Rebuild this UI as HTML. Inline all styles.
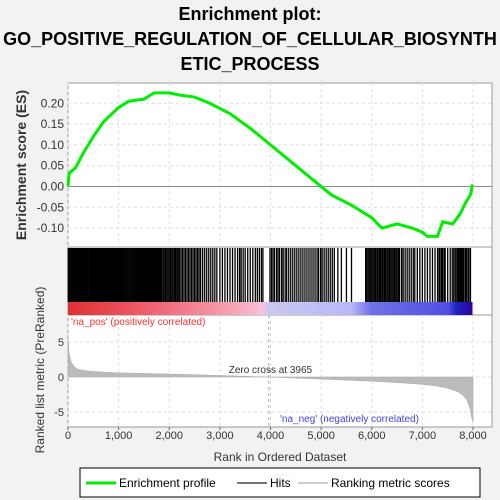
<!DOCTYPE html>
<html><head><meta charset="utf-8"><style>
body{margin:0;background:#f2f2f2;font-family:"Liberation Sans",sans-serif;}
svg{display:block}
</style></head><body>
<svg width="500" height="500" xmlns="http://www.w3.org/2000/svg">
<rect width="500" height="500" fill="#f2f2f2"/>
<text x="250" y="20" text-anchor="middle" font-size="18" font-weight="bold">Enrichment plot:</text>
<text x="250" y="45" text-anchor="middle" font-size="18" font-weight="bold">GO_POSITIVE_REGULATION_OF_CELLULAR_BIOSYNTH</text>
<text x="250" y="70" text-anchor="middle" font-size="18" font-weight="bold">ETIC_PROCESS</text>
<g id="chart"></g>
</svg>
<script>
const esRanks=[0,20,50,150,300,500,700,1000,1200,1500,1700,2000,2200,2500,2800,3200,3600,4000,4400,4800,5200,5600,6000,6200,6500,6800,7000,7100,7300,7400,7600,7750,7850,7950,7990];
const esValues=[0,0.03,0.035,0.045,0.08,0.12,0.155,0.19,0.205,0.21,0.225,0.225,0.22,0.215,0.2,0.175,0.14,0.1,0.06,0.02,-0.02,-0.045,-0.075,-0.1,-0.09,-0.1,-0.11,-0.12,-0.12,-0.085,-0.09,-0.065,-0.04,-0.02,0.005];
const hitRanks=[5,20,30,45,60,75,90,105,120,135,150,165,180,200,210,225,240,255,270,290,300,315,330,345,360,375,390,410,420,435,450,465,480,495,510,525,540,560,570,585,600,615,630,650,660,675,690,710,720,735,750,770,780,800,810,830,840,860,870,890,900,920,930,950,960,980,1000,1020,1040,1060,1080,1100,1120,1140,1160,1180,1200,1220,1240,1260,1280,1300,1320,1340,1360,1380,1400,1415,1430,1445,1460,1475,1490,1505,1520,1535,1550,1565,1580,1595,1610,1625,1640,1655,1670,1685,1700,1715,1730,1745,1760,1775,1790,1805,1820,1835,1850,1875,1900,1925,1950,1975,2000,2025,2050,2075,2100,2125,2150,2175,2200,2230,2260,2290,2320,2350,2380,2410,2440,2470,2500,2530,2560,2590,2620,2660,2700,2740,2780,2820,2860,2900,2940,3000,3050,3100,3150,3200,3250,3300,3350,3390,3420,3460,3500,3550,3600,3650,3700,3740,3780,3820,3850,3990,4020,4050,4080,4120,4150,4180,4220,4250,4290,4320,4360,4400,4440,4480,4520,4560,4600,4640,4680,4720,4760,4800,4840,4880,4920,4950,4990,5020,5060,5100,5140,5180,5220,5260,5330,5400,5500,5600,5880,5900,5925,5950,5975,6000,6025,6050,6075,6100,6125,6150,6175,6200,6225,6250,6275,6300,6325,6350,6375,6400,6425,6450,6475,6500,6525,6550,6590,6620,6660,6700,6740,6780,6820,6850,6900,6950,7000,7050,7100,7150,7200,7250,7300,7330,7350,7380,7400,7430,7450,7500,7550,7590,7620,7650,7680,7700,7720,7740,7760,7780,7800,7820,7850,7870,7900,7920,7950];
const metricRanks=[0,20,60,120,200,400,700,1000,1500,2000,2500,3000,3500,3965,4500,5000,5500,6000,6500,7000,7300,7500,7700,7800,7880,7940,7980,8000];
const metricValues=[6,3.5,2.2,1.5,1.1,0.85,0.7,0.6,0.5,0.42,0.33,0.22,0.1,0,-0.15,-0.3,-0.45,-0.6,-0.8,-1.05,-1.3,-1.6,-2.1,-2.6,-3.3,-4.5,-6,-6.5];
const xTicks=[0,1000,2000,3000,4000,5000,6000,7000,8000];
const esTicks=[-0.10,-0.05,0,0.05,0.10,0.15,0.20];
const mTicks=[-5,0,5];
const NS="http://www.w3.org/2000/svg";
const g=document.getElementById('chart');
const L=68,R=492;
const x=r=>L+r*(473-L)/8000;
const yEs=v=>186.5-v*416;
const yM=v=>377-v*7;
function el(t,a,p){const e=document.createElementNS(NS,t);for(const k in a)e.setAttribute(k,a[k]);(p||g).appendChild(e);return e;}
const p1=el('rect',{x:L,y:83,width:R-L,height:164,fill:'#fff',stroke:'#999'});


const p2=el('rect',{x:L,y:247,width:R-L,height:68,fill:'#fff',stroke:'#999'});


const p3=el('rect',{x:L,y:315,width:R-L,height:112,fill:'#fff',stroke:'#999'});


xTicks.forEach(t=>{
 el('line',{x1:x(t),x2:x(t),y1:83,y2:247,stroke:'#ddd','stroke-dasharray':'3,3'});
 el('line',{x1:x(t),x2:x(t),y1:315,y2:427,stroke:'#ddd','stroke-dasharray':'3,3'});
 const tl=el('text',{x:x(t),y:439,'text-anchor':'middle','font-size':11,fill:'#333'});tl.textContent=t.toLocaleString('en-US');
 
 
 el('line',{x1:x(t),x2:x(t),y1:427,y2:430,stroke:'#666'});
});
esTicks.forEach(t=>{
 el('line',{x1:L,x2:R,y1:yEs(t),y2:yEs(t),stroke:'#ddd','stroke-dasharray':'3,3'});
 const tl=el('text',{x:L-4,y:yEs(t)+4,'text-anchor':'end','font-size':12,fill:'#333'});tl.textContent=t.toFixed(2);
 
 
});
el('line',{x1:L,x2:R,y1:yEs(0),y2:yEs(0),stroke:'#888'});
mTicks.forEach(t=>{
 el('line',{x1:L,x2:R,y1:yM(t),y2:yM(t),stroke:'#ddd','stroke-dasharray':'3,3'});
 const tl=el('text',{x:L-4,y:yM(t)+4,'text-anchor':'end','font-size':11,fill:'#333'});tl.textContent=t;
 
 
});
const es=el('polyline',{points:esRanks.map((r,i)=>x(r)+','+yEs(esValues[i])).join(' '),fill:'none',stroke:'#00ee00','stroke-width':3});


hitRanks.forEach(r=>{
 const h=el('line',{x1:x(r),x2:x(r),y1:248,y2:302,stroke:'#000','stroke-width':1.3});
 
 
});
const defs=el('defs',{});
const lg=el('linearGradient',{id:'band',x1:0,x2:1,y1:0,y2:0},defs);
[[0,'#e03030'],[0.2,'#f06070'],[0.38,'#f59aa8'],[0.48,'#f8c0dc'],[0.5,'#c8c8f0'],[0.7,'#b8b8f8'],[0.75,'#7070e8'],[0.94,'#5050e0'],[0.96,'#2020c0'],[1,'#3000a0']].forEach(s=>el('stop',{offset:s[0],'stop-color':s[1]},lg));
const band=el('rect',{x:x(0),y:302,width:x(7990)-x(0),height:13,fill:'url(#band)'});


let pts=x(0)+','+yM(0)+' '+metricRanks.map((r,i)=>x(r)+','+yM(metricValues[i])).join(' ')+' '+x(8000)+','+yM(0);
const ar=el('polygon',{points:pts,fill:'#bbb',stroke:'#aaa','stroke-width':0.5});


el('line',{x1:x(3965),x2:x(3965),y1:315,y2:427,stroke:'#aaa','stroke-dasharray':'3,3'});
const zc=el('text',{x:x(3965)-40,y:373,'font-size':10,fill:'#333'});zc.textContent='Zero cross at 3965';


const np=el('text',{x:71,y:325,'font-size':10,fill:'#ff3030'});np.textContent="'na_pos' (positively correlated)";


const nn=el('text',{x:280,y:422,'font-size':10,fill:'#4040e0'});nn.textContent="'na_neg' (negatively correlated)";


const yt=el('text',{x:26,y:165,'text-anchor':'middle','font-size':14,'font-weight':'bold',fill:'#333',transform:'rotate(-90 26 165)'});yt.textContent='Enrichment score (ES)';


const yt2=el('text',{x:44,y:370,'text-anchor':'middle','font-size':12,fill:'#333',transform:'rotate(-90 44 370)'});yt2.textContent='Ranked list metric (PreRanked)';


const xt=el('text',{x:280,y:461,'text-anchor':'middle','font-size':12,fill:'#333'});xt.textContent='Rank in Ordered Dataset';


const lgBox=el('rect',{x:80,y:468,width:400,height:29,fill:'#fff',stroke:'#000'});


el('line',{x1:86,x2:116,y1:483,y2:483,stroke:'#00ee00','stroke-width':3});
let t1=el('text',{x:119,y:487,'font-size':12});t1.textContent='Enrichment profile';


el('line',{x1:237,x2:267,y1:483,y2:483,stroke:'#777','stroke-width':2});
let t2=el('text',{x:270,y:487,'font-size':12});t2.textContent='Hits';


el('line',{x1:276,x2:290,y1:475,y2:475,stroke:'#eee','stroke-width':1});
el('line',{x1:298,x2:328,y1:483,y2:483,stroke:'#ccc','stroke-width':2});
let t3=el('text',{x:331,y:487,'font-size':12});t3.textContent='Ranking metric scores';


</script>
</body></html>
